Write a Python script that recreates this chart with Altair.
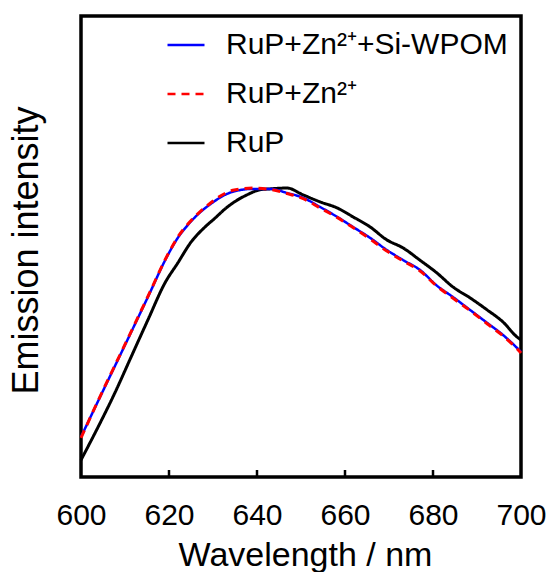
import altair as alt
import pandas as pd

S_BLUE = "RuP+Zn²⁺+Si-WPOM"
S_RED = "RuP+Zn²⁺"
S_BLACK = "RuP"

wl_blue = [600, 605, 610, 615, 620, 622, 624.3, 626.6, 629.5,
           632.7, 634.5, 639.1, 643, 646.8, 650.5, 654.3, 658.2, 661.8, 665.7, 669.5,
           673.2, 677, 680.9, 684.5, 688.4, 692.3, 695.9, 699.1, 700]
i_blue = [0.139, 0.299, 0.458, 0.618, 0.778, 0.830, 0.875, 0.912, 0.948,
          0.979, 0.990, 1.0, 1.0, 0.986, 0.969, 0.9375, 0.903, 0.868, 0.830, 0.788,
          0.753, 0.719, 0.664, 0.625, 0.580, 0.535, 0.493, 0.448, 0.434]
i_red = [0.136, 0.301, 0.460, 0.620, 0.780, 0.833, 0.878, 0.914, 0.952,
         0.984, 0.995, 1.003, 0.998, 0.984, 0.966, 0.934, 0.901, 0.866, 0.826, 0.784,
         0.750, 0.716, 0.662, 0.621, 0.578, 0.532, 0.490, 0.445, 0.430]

wl_black = [600, 603.9, 607.7, 611.4, 615.2, 619.1, 622, 625, 628.2, 630.5, 632.7, 634.5,
            637.7, 640.7, 643, 646.8, 650.5, 654.3, 658.2, 661.8, 665.7, 669.5, 673.2,
            677, 680.9, 684.5, 688.4, 692.3, 695.9, 699.1, 700]
i_black = [0.059, 0.174, 0.292, 0.417, 0.545, 0.674, 0.743, 0.815, 0.868, 0.899, 0.930, 0.951,
           0.979, 0.997, 1.0, 1.003, 0.979, 0.955, 0.934, 0.903, 0.868, 0.823, 0.795,
           0.753, 0.708, 0.660, 0.622, 0.580, 0.538, 0.486, 0.476]

x_ticks = [620, 640, 660, 680]
x_labels = [600, 620, 640, 660, 680, 700]

rows = []
for w, v in zip(wl_blue, i_blue):
    rows.append({"wl": w, "I": v, "series": S_BLUE})
for w, v in zip(wl_blue, i_red):
    rows.append({"wl": w, "I": v, "series": S_RED})
for w, v in zip(wl_black, i_black):
    rows.append({"wl": w, "I": v, "series": S_BLACK})
df = pd.DataFrame(rows)
ticks_df = pd.DataFrame({"t": x_ticks})

FONT = "Liberation Sans"
order = [S_BLUE, S_RED, S_BLACK]

leg = alt.Legend(
    orient="none", legendX=85, legendY=9, title=None,
    symbolType="stroke", symbolSize=1369, symbolStrokeWidth=2.5,
    labelFontSize=30, labelFont=FONT, labelColor="black", labelOffset=20,
    labelLimit=500, rowPadding=14, padding=0,
)

x_enc = alt.X("wl:Q", scale=alt.Scale(domain=[600, 700], nice=False, zero=False),
              axis=alt.Axis(values=x_labels, title="Wavelength / nm", grid=False, domain=False,
                            ticks=False, labelFontSize=30, labelFont=FONT, labelColor="black",
                            labelPadding=47, labelBaseline="alphabetic", labelFlush=False,
                            titleFontSize=34, titleFont=FONT, titleFontWeight="normal",
                            titleColor="black", titleX=224, titleY=88,
                            titleBaseline="alphabetic", titleAlign="center"))
y_enc = alt.Y("I:Q", scale=alt.Scale(domain=[0, 1.6], nice=False),
              axis=alt.Axis(title="Emission intensity", grid=False, domain=False, ticks=False,
                            labels=False, titleFontSize=36, titleFont=FONT,
                            titleFontWeight="normal", titleColor="black", titleX=-44,
                            titleY=234, titleAngle=-90, titleBaseline="alphabetic",
                            titleAlign="center"))
color_enc = alt.Color("series:N", scale=alt.Scale(domain=order, range=["#0000ff", "#ff0000", "#000000"]),
                      legend=leg)
dash_enc = alt.StrokeDash("series:N", scale=alt.Scale(domain=order, range=[[1, 0], [8, 6], [1, 0]]),
                          legend=leg)

base = alt.Chart(df).encode(x=x_enc, y=y_enc, color=color_enc, strokeDash=dash_enc)

black = base.transform_filter(alt.datum.series == S_BLACK).mark_line(strokeWidth=3, interpolate="monotone")
blue = base.transform_filter(alt.datum.series == S_BLUE).mark_line(strokeWidth=2.5, interpolate="monotone")
red = base.transform_filter(alt.datum.series == S_RED).mark_line(strokeWidth=3, interpolate="monotone")

tick_rules = alt.Chart(ticks_df).mark_rule(color="black", strokeWidth=2.5).encode(
    x="t:Q", y=alt.value(461), y2=alt.value(454))

chart = alt.layer(black, blue, red, tick_rules).properties(
    width=440, height=461,
    autosize=alt.AutoSizeParams(type="none"),
    padding={"left": 81, "top": 16, "right": 26, "bottom": 95},
    background="white",
).configure_view(stroke="black", strokeWidth=3.5)

chart.save("out.html", embed_options={"renderer": "svg", "actions": False})
